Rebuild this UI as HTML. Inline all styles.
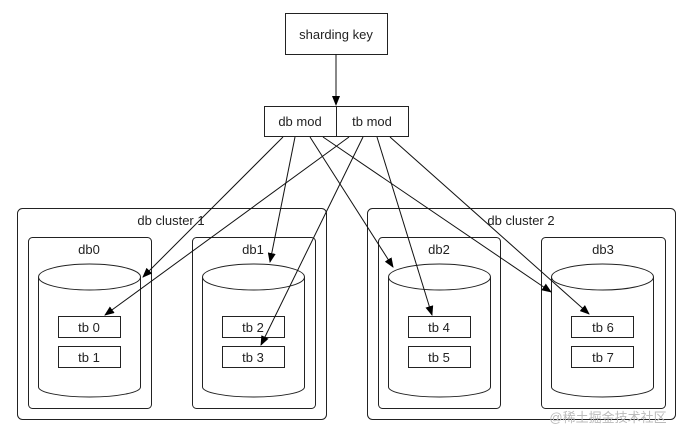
<!DOCTYPE html>
<html><head><style>body{margin:0;background:#fff}svg{display:block}</style></head><body>
<svg width="692" height="438" viewBox="0 0 692 438" xmlns="http://www.w3.org/2000/svg" font-family="Liberation Sans, sans-serif" font-size="13">
<defs><marker id="a" markerWidth="10" markerHeight="8" refX="9" refY="4" orient="auto" markerUnits="userSpaceOnUse"><path d="M0,0 L10,4 L0,8 z" fill="#000"/></marker></defs>
<g fill="#fff" stroke="#222" stroke-width="1">
<rect x="17.5" y="208.5" width="309" height="211" rx="5" filter=""/>
<rect x="367.5" y="208.5" width="308" height="211" rx="5"/>
<rect x="28.5" y="237.5" width="123" height="171" rx="4"/>
<rect x="192.5" y="237.5" width="123" height="171" rx="4"/>
<rect x="378.5" y="237.5" width="122" height="171" rx="4"/>
<rect x="541.5" y="237.5" width="124" height="171" rx="4"/>
<rect x="285.5" y="13.5" width="102" height="41"/>
<rect x="264.5" y="106.5" width="72" height="30"/>
<rect x="336.5" y="106.5" width="72" height="30"/>
</g>
<g fill="#fff" stroke="#222">
<g id="c"><path d="M38.5,277 V387 A51,10 0 0 0 140.5,387 V277"/><ellipse cx="89.5" cy="277" rx="51" ry="13"/>
<rect x="58.5" y="316.5" width="62" height="21"/><rect x="58.5" y="346.5" width="62" height="21"/></g>
<use href="#c" x="164"/><use href="#c" x="350"/><use href="#c" x="513"/>
</g>
<g fill="#222" text-anchor="middle">
<text x="336" y="39">sharding key</text>
<text x="300" y="126">db mod</text><text x="372" y="126">tb mod</text>
<text x="171" y="225">db cluster 1</text><text x="521" y="225">db cluster 2</text>
<text x="89" y="254">db0</text><text x="253" y="254">db1</text><text x="439" y="254">db2</text><text x="603" y="254">db3</text>
<text x="89" y="332">tb 0</text><text x="89" y="362">tb 1</text>
<text x="253" y="332">tb 2</text><text x="253" y="362">tb 3</text>
<text x="439" y="332">tb 4</text><text x="439" y="362">tb 5</text>
<text x="603" y="332">tb 6</text><text x="603" y="362">tb 7</text>
</g>
<g stroke="#111" stroke-width="1" marker-end="url(#a)">
<line x1="336" y1="54" x2="336" y2="105"/>
<line x1="283" y1="137" x2="143" y2="277"/>
<line x1="295" y1="137" x2="270" y2="262"/>
<line x1="310" y1="137" x2="393" y2="267"/>
<line x1="323" y1="137" x2="551" y2="292"/>
<line x1="349" y1="137" x2="105" y2="315"/>
<line x1="363" y1="137" x2="261" y2="345"/>
<line x1="377" y1="137" x2="432" y2="315"/>
<line x1="390" y1="137" x2="589" y2="314"/>
</g>
<text x="608" y="422" font-size="13" fill="#bbb" text-anchor="middle" font-family="Liberation Sans, Noto Sans CJK SC, sans-serif">@稀土掘金技术社区</text>
</svg>
</body></html>
